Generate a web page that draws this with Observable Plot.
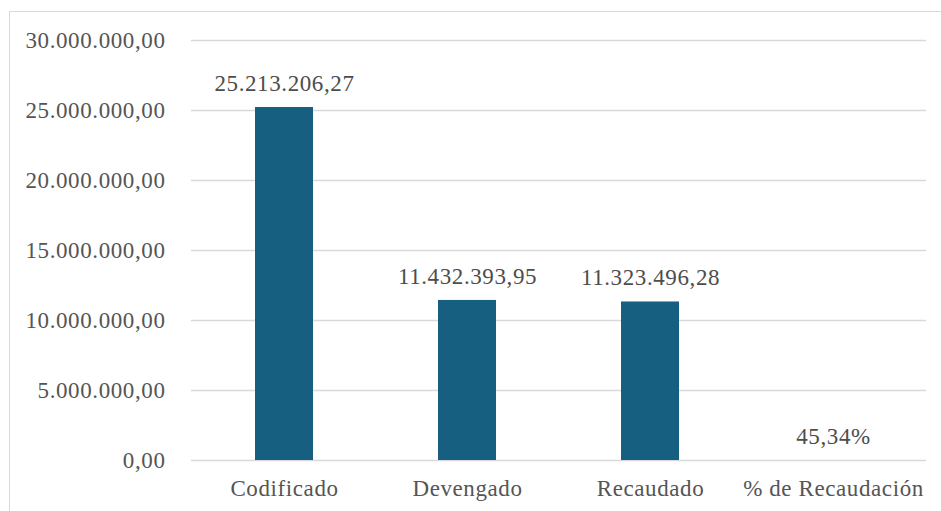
<!DOCTYPE html>
<html>
<head>
<meta charset="utf-8">
<script src="https://cdn.jsdelivr.net/npm/d3@7"></script>
<script src="https://cdn.jsdelivr.net/npm/@observablehq/plot@0.6"></script>
<style>
  html, body { margin: 0; padding: 0; background: #fff; }
  #wrap { position: relative; width: 941px; height: 511px; overflow: hidden; }
  #frame { position: absolute; left: 9px; top: 11px; width: 1000px; height: 600px;
           border-left: 1.5px solid #d9d9d9; border-top: 1.5px solid #d9d9d9; box-sizing: border-box; }
  #chart { position: absolute; left: 0; top: 0; }
  #chart svg, #chart svg text, #chart svg g { font-family: "Liberation Serif", "Times New Roman", serif !important; }
  #chart svg text { letter-spacing: 0.6px; }
</style>
</head>
<body>
<div id="wrap"><div id="frame"></div><div id="chart"></div></div>
<script>
const categories = ["Codificado", "Devengado", "Recaudado", "% de Recaudación"];
const values = [25213206.27, 11432393.95, 11323496.28, 45.34];
const valueLabels = ["25.213.206,27", "11.432.393,95", "11.323.496,28", "45,34%"];
const yTicks = [0, 5000000, 10000000, 15000000, 20000000, 25000000, 30000000];

const locale = d3.formatLocale({decimal: ",", thousands: ".", grouping: [3], currency: ["", ""]});
const fmt = locale.format(",.2f");

const data = categories.map((c, i) => ({cat: c, value: values[i], label: valueLabels[i]}));

const chart = Plot.plot({
  width: 941,
  height: 511,
  marginLeft: 191,
  marginRight: 15,
  marginTop: 40,
  marginBottom: 51,
  style: {fontFamily: "'Liberation Serif', 'Times New Roman', serif", fontSize: "23px", background: "transparent", overflow: "visible"},
  x: {domain: categories, paddingInner: 0.685, paddingOuter: 0.34, label: null},
  y: {domain: [0, 30000000], label: null},
  marks: [
    Plot.ruleY(yTicks, {stroke: "#d9d9d9", strokeWidth: 1.5}),
    Plot.barY(data, {x: "cat", y: "value", fill: "#175f80"}),
    Plot.text(data, {x: "cat", y: "value", text: "label", lineAnchor: "middle", dy: -24, fill: "#4d4d4d", fontSize: 23, fontFamily: "Liberation Serif"}),
    Plot.axisY({ticks: yTicks, tickFormat: fmt, tickSize: 0, tickPadding: 26, fill: "#555555", fontSize: 23, fontFamily: "Liberation Serif"}),
    Plot.axisX({tickSize: 0, tickPadding: 19, fill: "#555555", fontSize: 23, fontFamily: "Liberation Serif"})
  ]
});
document.getElementById("chart").appendChild(chart);
</script>
</body>
</html>
